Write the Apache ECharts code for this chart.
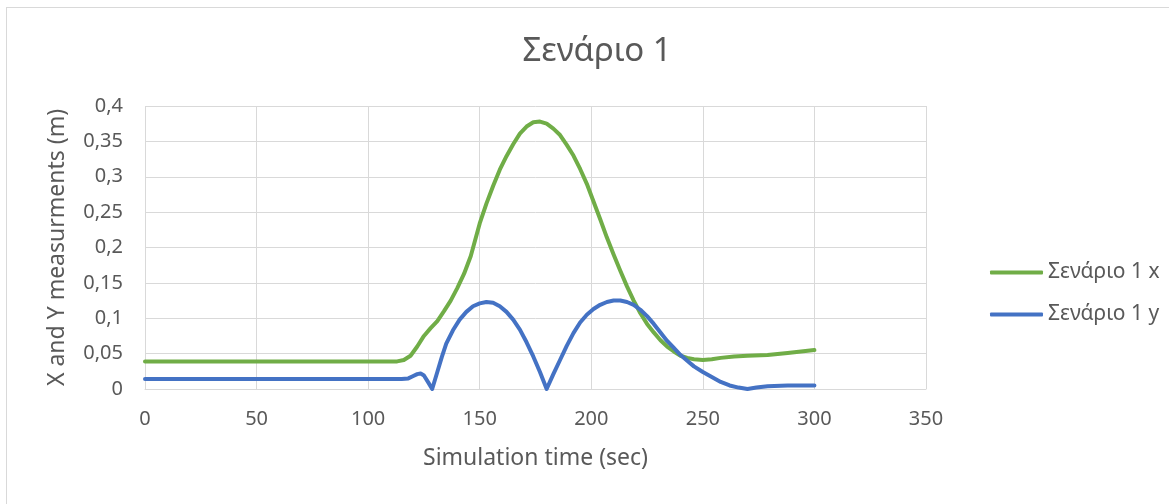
<!DOCTYPE html>
<html>
<head>
<meta charset="utf-8">
<script src="https://cdn.jsdelivr.net/npm/echarts@6/dist/echarts.min.js"></script>
<style>
html,body{margin:0;padding:0;background:#fff;}
#frame{position:absolute;left:6px;top:7px;width:1180px;height:510px;border:1px solid #d9d9d9;box-sizing:border-box;}
#chart{position:absolute;left:0;top:0;width:1169px;height:504px;}
</style>
</head>
<body>
<div id="frame"></div>
<div id="chart"></div>
<script>
const titleText = 'Σενάριο 1';
const xAxisName = 'Simulation time (sec)';
const yAxisName = 'X and Y measurments (m)';
const seriesNames = ['Σενάριο 1 x', 'Σενάριο 1 y'];

const timeX = [0, 50, 100, 113, 116, 119, 122, 125, 128, 131, 134, 137, 140, 143, 146, 150, 153, 156, 159, 162, 165, 168, 171, 174, 177, 180, 183, 186, 189, 192, 195, 198, 201, 204, 207, 210, 213, 216, 219, 222, 225, 228, 231, 234, 237, 240, 243, 246, 250, 254, 258, 264, 270, 279, 288, 294, 300];
const valuesX = [0.039, 0.039, 0.039, 0.039, 0.041, 0.047, 0.060, 0.075, 0.086, 0.096, 0.110, 0.125, 0.143, 0.163, 0.188, 0.234, 0.262, 0.287, 0.310, 0.329, 0.346, 0.361, 0.371, 0.377, 0.378, 0.375, 0.368, 0.359, 0.345, 0.330, 0.311, 0.290, 0.265, 0.240, 0.214, 0.190, 0.167, 0.145, 0.125, 0.107, 0.092, 0.080, 0.069, 0.060, 0.053, 0.047, 0.044, 0.042, 0.041, 0.042, 0.044, 0.046, 0.047, 0.048, 0.051, 0.053, 0.055];

const timeY = [0, 100, 115, 118, 120, 122, 123.5, 125, 127, 128.7, 131, 133, 135, 138, 141, 144, 147, 150, 153, 156, 159, 162, 165, 168, 171, 174, 177, 180, 183, 186, 189, 192, 195, 198, 201, 204, 207, 210, 213, 216, 219, 222, 225, 228, 231, 234, 237, 240, 243, 246, 250, 254, 258, 262, 266, 270, 274, 279, 288, 300];
const valuesY = [0.014, 0.014, 0.014, 0.015, 0.018, 0.021, 0.022, 0.019, 0.009, 0.0, 0.024, 0.045, 0.064, 0.083, 0.098, 0.109, 0.117, 0.121, 0.123, 0.122, 0.117, 0.109, 0.098, 0.084, 0.066, 0.046, 0.024, 0.0, 0.021, 0.041, 0.061, 0.079, 0.094, 0.105, 0.113, 0.119, 0.123, 0.125, 0.125, 0.123, 0.119, 0.112, 0.103, 0.092, 0.080, 0.068, 0.058, 0.048, 0.040, 0.032, 0.024, 0.017, 0.010, 0.005, 0.002, 0.0, 0.002, 0.004, 0.005, 0.005];

const pair = (xs, ys) => xs.map((t, i) => [t, ys[i]]);
const FONT = '"Noto Sans", "Open Sans", sans-serif';
const TXT = '#595959';
const GRID = '#d9d9d9';

const chart = echarts.init(document.getElementById('chart'), null, {renderer: 'canvas'});
chart.setOption({
  animation: false,
  backgroundColor: 'transparent',
  textStyle: {fontFamily: FONT},
  title: {
    text: titleText,
    left: 592,
    textAlign: 'center',
    top: 30,
    textStyle: {fontFamily: FONT, fontSize: 33, fontWeight: 'normal', color: TXT}
  },
  grid: {left: 145, right: 243, top: 106, bottom: 115},
  legend: {
    orient: 'vertical',
    left: 985,
    top: 257,
    icon: 'roundRect',
    itemWidth: 53,
    itemHeight: 4,
    itemGap: 21,
    textStyle: {fontFamily: FONT, fontSize: 21, color: TXT},
    data: seriesNames
  },
  xAxis: {
    type: 'value',
    min: 0, max: 350, interval: 50,
    name: xAxisName,
    nameLocation: 'middle',
    nameGap: 58,
    nameTextStyle: {fontFamily: FONT, fontSize: 23, color: TXT},
    axisLine: {show: true, lineStyle: {color: GRID, width: 1}},
    axisTick: {show: false},
    axisLabel: {fontFamily: FONT, fontSize: 20, color: TXT, margin: 20},
    splitLine: {show: true, lineStyle: {color: GRID, width: 1}}
  },
  yAxis: {
    type: 'value',
    min: 0, max: 0.4, interval: 0.05,
    name: yAxisName,
    nameLocation: 'middle',
    nameGap: 76,
    nameTextStyle: {fontFamily: FONT, fontSize: 23, color: TXT},
    axisLine: {show: false},
    axisTick: {show: false},
    axisLabel: {
      fontFamily: FONT, fontSize: 20, color: TXT, margin: 22,
      formatter: v => String(+v.toFixed(2)).replace('.', ',')
    },
    splitLine: {show: true, lineStyle: {color: GRID, width: 1}}
  },
  series: [
    {
      name: seriesNames[0], type: 'line', symbol: 'none', smooth: false,
      data: pair(timeX, valuesX),
      lineStyle: {color: '#70AD47', width: 4, cap: 'round', join: 'round'},
      itemStyle: {color: '#70AD47'}
    },
    {
      name: seriesNames[1], type: 'line', symbol: 'none', smooth: false,
      data: pair(timeY, valuesY),
      lineStyle: {color: '#4472C4', width: 4, cap: 'round', join: 'round'},
      itemStyle: {color: '#4472C4'}
    }
  ]
});
</script>
</body>
</html>
